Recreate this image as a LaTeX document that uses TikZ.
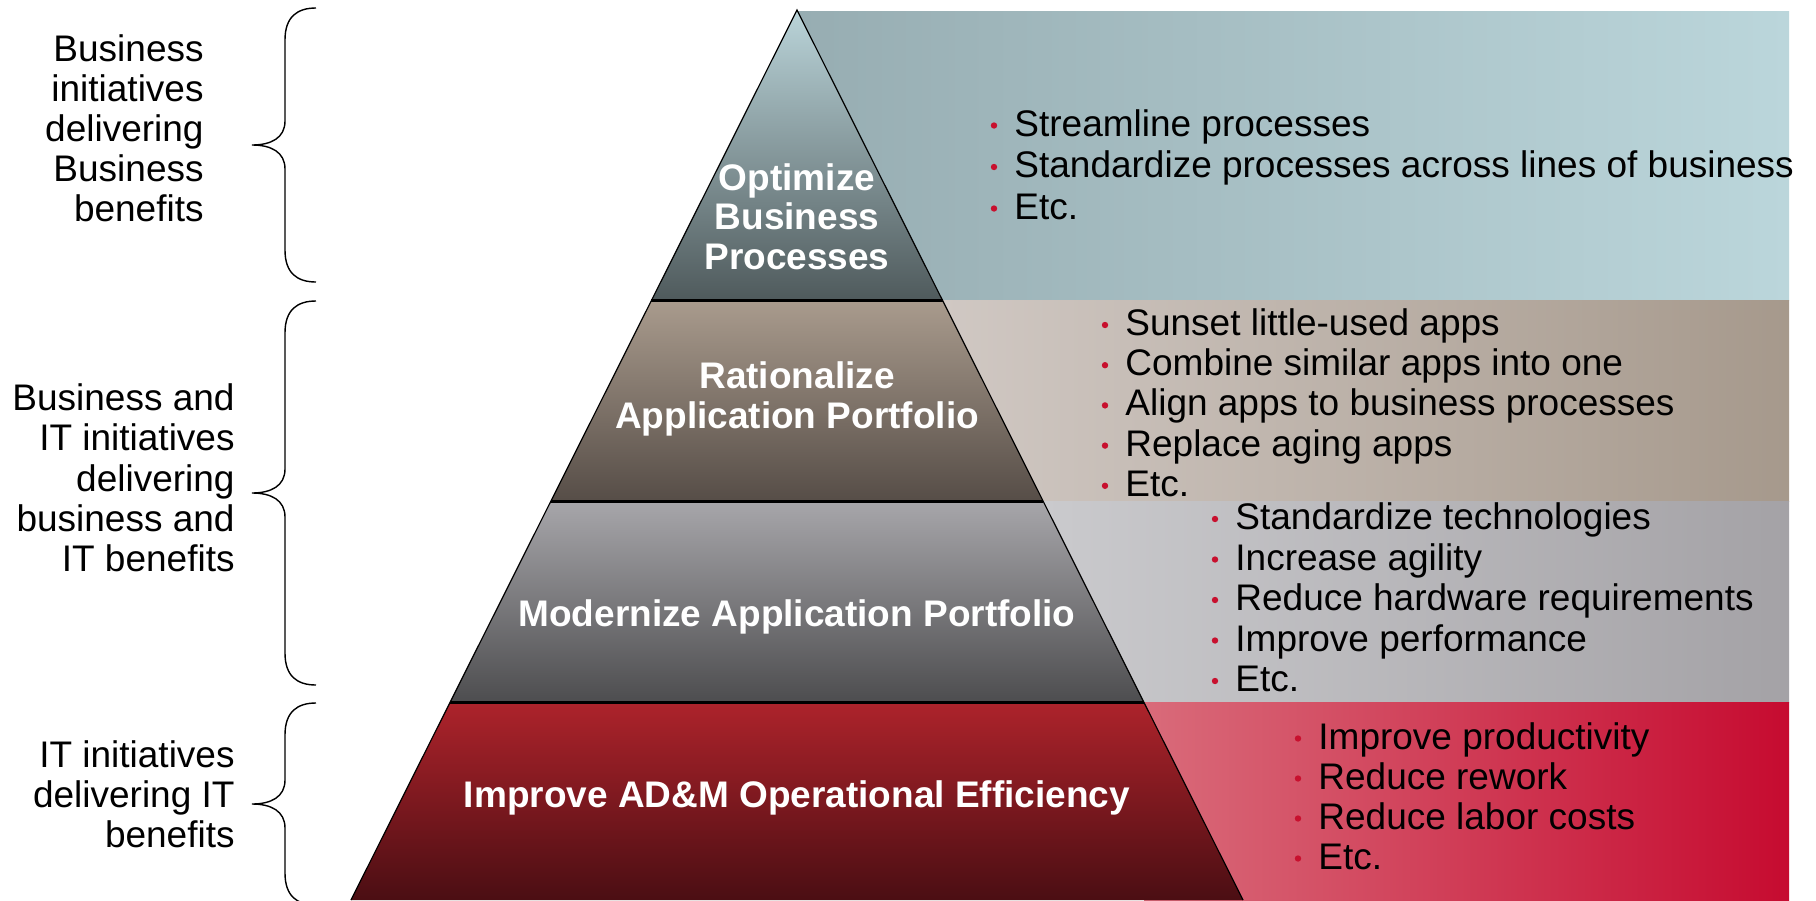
\documentclass[tikz,border=0pt]{standalone}
\usepackage{fontspec}
\setmainfont{Liberation Sans}
\usetikzlibrary{calc}

% panel gradients (left -> right)
\definecolor{panAl}{HTML}{97ADB2}\definecolor{panAr}{HTML}{BBD6DB}
\definecolor{panBl}{HTML}{D0C8C3}\definecolor{panBr}{HTML}{A6998C}
\definecolor{panCl}{HTML}{CACACD}\definecolor{panCr}{HTML}{A4A2A6}
\definecolor{panDl}{HTML}{D96B7A}\definecolor{panDr}{HTML}{C60B30}
% pyramid tier gradients (top -> bottom)
\definecolor{tierAt}{HTML}{BAD4D9}\definecolor{tierAb}{HTML}{4F5A5C}
\definecolor{tierBt}{HTML}{A99B8D}\definecolor{tierBb}{HTML}{564D47}
\definecolor{tierCt}{HTML}{A7A6AA}\definecolor{tierCb}{HTML}{4D4D4F}
\definecolor{tierDt}{HTML}{AD232B}\definecolor{tierDb}{HTML}{4B0E13}
\definecolor{bulred}{HTML}{C8102E}

% curly brace opening to the right: #1 top y, #2 bottom y
\newcommand{\leftbrace}[2]{%
  \pgfmathsetmacro{\bmid}{(#1+#2)/2}%
  \draw[bracepen] (316,#1) .. controls (297,#1) and (285,{#1+9}) .. (285,{#1+32})
    -- (285,{\bmid-24}) .. controls (285,{\bmid-7}) and (271,\bmid) .. (252,\bmid)
    .. controls (271,\bmid) and (285,{\bmid+7}) .. (285,{\bmid+24})
    -- (285,{#2-32}) .. controls (285,{#2-9}) and (297,#2) .. (316,#2);}

\begin{document}
\begin{tikzpicture}[x=0.5pt,y=-0.5pt,
  txt/.style={inner sep=0pt, font=\fontsize{18.5}{20}\selectfont, text=black},
  item/.style={txt, anchor=base west},
  side/.style={txt, anchor=base east},
  tier/.style={inner sep=0pt, font=\fontsize{18.5}{20}\selectfont\bfseries, text=white, anchor=base},
  edge/.style={draw=black, line width=0.6pt, line join=miter},
  divider/.style={draw=black, line width=1.3pt},
  bracepen/.style={draw=black, line width=0.7pt},
  dot/.style={fill=bulred}]

\useasboundingbox (0,0) rectangle (1816,900);
\clip (0,0) rectangle (1816,900);

% pyramid geometry
\coordinate (apex) at (797,10);
\coordinate (bl) at (351,900);
\coordinate (br) at (1243,900);
\coordinate (l1) at ($(apex)!0.3264!(bl)$);
\coordinate (r1) at ($(apex)!0.3264!(br)$);
\coordinate (l2) at ($(apex)!0.5522!(bl)$);
\coordinate (r2) at ($(apex)!0.5522!(br)$);
\coordinate (l3) at ($(apex)!0.7781!(bl)$);
\coordinate (r3) at ($(apex)!0.7781!(br)$);

% benefit panels behind the pyramid
\shade[left color=panAl, right color=panAr] (797,11.5) rectangle (1789,300.5);
\shade[left color=panBl, right color=panBr] (r1) rectangle (1789,501.5);
\shade[left color=panCl, right color=panCr] (r2) rectangle (1789,702.5);
\shade[left color=panDl, right color=panDr] (r3) rectangle (1789,900);

% pyramid tiers
\shade[top color=tierAt, bottom color=tierAb] (apex) -- (r1) -- (l1) -- cycle;
\shade[top color=tierBt, bottom color=tierBb] (l1) -- (r1) -- (r2) -- (l2) -- cycle;
\shade[top color=tierCt, bottom color=tierCb] (l2) -- (r2) -- (r3) -- (l3) -- cycle;
\shade[top color=tierDt, bottom color=tierDb] (l3) -- (r3) -- (br) -- (bl) -- cycle;
\draw[edge] (bl) -- (apex) -- (br);
\draw[divider] (l1) -- (r1);
\draw[divider] (l2) -- (r2);
\draw[divider] (l3) -- (r3);

% tier titles
\node[tier] (tA1) at (797,190) {Optimize};
\node[tier] (tA2) at (797,229.5) {Business};
\node[tier] (tA3) at (797,269) {Processes};
\node[tier] (tB1) at (797,388.5) {Rationalize};
\node[tier] (tB2) at (797,428.5) {Application Portfolio};
\node[tier] (tC1) at (797,626) {Modernize Application Portfolio};
\node[tier] (tD1) at (797,807) {Improve AD\&M Operational Efficiency};

% benefit lists
\foreach \t [count=\i] in {Streamline processes, Standardize processes across lines of business, Etc.}{
  \node[item] (pA\i) at (1014,{136+41.5*(\i-1)}) {\t};
  \fill[dot] ([shift={(-10pt,5.25pt)}]pA\i.base west) circle (1.6pt);
}
\foreach \t [count=\i] in {Sunset little-used apps, Combine similar apps into one, Align apps to business processes, Replace aging apps, Etc.}{
  \node[item] (pB\i) at (1125,{335.5+40.2*(\i-1)}) {\t};
  \fill[dot] ([shift={(-10pt,5.25pt)}]pB\i.base west) circle (1.6pt);
}
\foreach \t [count=\i] in {Standardize technologies, Increase agility, Reduce hardware requirements, Improve performance, Etc.}{
  \node[item] (pC\i) at (1235,{529.5+40.5*(\i-1)}) {\t};
  \fill[dot] ([shift={(-10pt,5.25pt)}]pC\i.base west) circle (1.6pt);
}
\foreach \t [count=\i] in {Improve productivity, Reduce rework, Reduce labor costs, Etc.}{
  \node[item] (pD\i) at (1318,{749+40*(\i-1)}) {\t};
  \fill[dot] ([shift={(-10pt,5.25pt)}]pD\i.base west) circle (1.6pt);
}

% initiative groups on the left
\foreach \t [count=\i] in {Business, initiatives, delivering, Business, benefits}
  \node[side] (sA\i) at (204,{61+40.2*(\i-1)}) {\t};
\foreach \t [count=\i] in {Business and, IT initiatives, delivering, business and, IT benefits}
  \node[side] (sB\i) at (235,{410.5+40.3*(\i-1)}) {\t};
\foreach \t [count=\i] in {IT initiatives, delivering IT, benefits}
  \node[side] (sC\i) at (235,{767+40*(\i-1)}) {\t};

\leftbrace{8}{282}
\leftbrace{301}{685}
\leftbrace{703}{905}
\end{tikzpicture}
\end{document}
